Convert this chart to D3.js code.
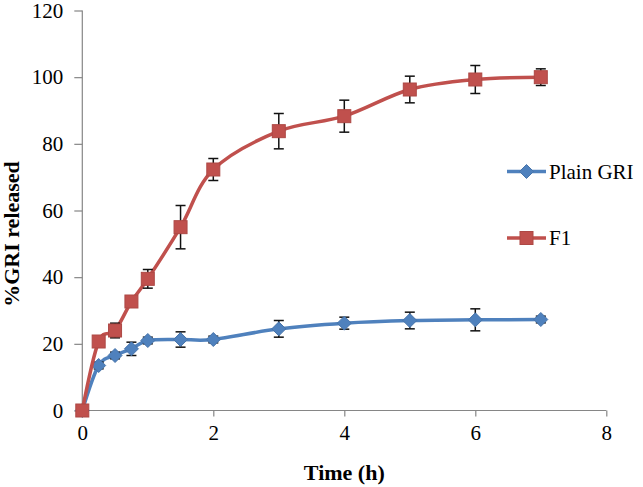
<!DOCTYPE html>
<html><head><meta charset="utf-8">
<script src="https://cdn.jsdelivr.net/npm/d3@7"></script>
<style>
html,body{margin:0;padding:0;background:#fff;}
svg{display:block;}
svg text{font-family:"Liberation Serif","Times New Roman",serif !important;}
</style></head>
<body>
<svg id="c" width="643" height="487"></svg>
<script>
const times = [0, 0.25, 0.5, 0.75, 1, 1.5, 2, 3, 4, 5, 6, 7];
const plainGRI = [0, 13.5, 16.5, 18.5, 21, 21.3, 21.3, 24.5, 26.2, 27, 27.2, 27.3];
const plainErr = [0, 1, 1, 2, 1, 2.3, 1, 2.5, 1.8, 2.5, 3.3, 1];
const f1 = [0, 20.7, 24, 32.7, 39.5, 55, 72.3, 83.8, 88.3, 96.3, 99.3, 100];
const f1Err = [0, 1, 2.2, 1, 2.8, 6.5, 3.3, 5.3, 4.8, 4, 4.2, 2.5];
const xTicks = [0, 2, 4, 6, 8];
const yTicks = [0, 20, 40, 60, 80, 100, 120];
const seriesNames = ["Plain GRI", "F1"];
const seriesColors = ["#4F81BD", "#C0504D"];
const markerTypes = ["diamond", "square"];

const FONT = '"Liberation Serif","Times New Roman",serif';
const svg = d3.select("#c");
const x = d3.scaleLinear().domain([0, 8]).range([82.3, 606.3]);
const y = d3.scaleLinear().domain([0, 120]).range([410.5, 10.5]);
const axisColor = "#868686";

// Axes
const gx = svg.append("g").attr("transform", `translate(0,${y(0)})`)
  .call(d3.axisBottom(x).tickValues(xTicks).tickSize(6).tickPadding(9).tickFormat(d3.format("d")));
const gy = svg.append("g").attr("transform", `translate(${x(0)},0)`)
  .call(d3.axisLeft(y).tickValues(yTicks).tickSize(8).tickPadding(11).tickFormat(d3.format("d")));
[gx, gy].forEach(g => {
  g.attr("font-family", FONT).attr("font-size", 21);
  g.select(".domain").attr("stroke", axisColor).attr("stroke-width", 1.2);
  g.selectAll(".tick line").attr("stroke", axisColor).attr("stroke-width", 1.2);
  g.selectAll(".tick text").attr("fill", "#000").attr("font-family", FONT).attr("font-size", 21);
});
gx.select(".domain").attr("d", `M${x(0)},0H${x(8)}`);
gy.select(".domain").attr("d", `M0,${y(0)}V${y(120)}`);

// Axis titles
svg.append("text").attr("x", x(4)).attr("y", 480).attr("text-anchor", "middle")
  .attr("font-family", FONT).attr("font-size", 22).attr("font-weight", "bold").text("Time (h)");
svg.append("text").attr("transform", "translate(19,234) rotate(-90)").attr("text-anchor", "middle")
  .attr("font-family", FONT).attr("font-size", 22).attr("font-weight", "bold").text("%GRI released");

const seriesData = [
  times.map((t, i) => ({t, v: plainGRI[i], e: plainErr[i]})),
  times.map((t, i) => ({t, v: f1[i], e: f1Err[i]}))
];

const line = d3.line().x(d => x(d.t)).y(d => y(d.v)).curve(d3.curveCatmullRom.alpha(0));

function marker(g, type, color, cx, cy) {
  if (type === "diamond") {
    g.append("path").attr("d", `M${cx},${cy-7}L${cx+7},${cy}L${cx},${cy+7}L${cx-7},${cy}Z`)
      .attr("fill", color).attr("stroke", d3.color(color).darker(0.3)).attr("stroke-width", 1);
  } else {
    g.append("rect").attr("x", cx - 6.5).attr("y", cy - 6.5).attr("width", 13).attr("height", 13)
      .attr("fill", color).attr("stroke", d3.color(color).darker(0.3)).attr("stroke-width", 1);
  }
}

seriesData.forEach((data, si) => {
  const g = svg.append("g");
  const color = seriesColors[si];
  g.append("path").datum(data).attr("d", line).attr("fill", "none")
    .attr("stroke", color).attr("stroke-width", 3.5);
  data.forEach(d => {
    if (d.e > 0) {
      const eg = g.append("g").attr("stroke", "#111").attr("stroke-width", 1.5);
      eg.append("line").attr("x1", x(d.t)).attr("x2", x(d.t)).attr("y1", y(d.v + d.e)).attr("y2", y(d.v - d.e));
      eg.append("line").attr("x1", x(d.t) - 5).attr("x2", x(d.t) + 5).attr("y1", y(d.v + d.e)).attr("y2", y(d.v + d.e));
      eg.append("line").attr("x1", x(d.t) - 5).attr("x2", x(d.t) + 5).attr("y1", y(d.v - d.e)).attr("y2", y(d.v - d.e));
    }
  });
  data.forEach(d => marker(g, markerTypes[si], color, x(d.t), y(d.v)));
});

// Legend
const legendY = [171.5, 238];
seriesNames.forEach((name, i) => {
  const g = svg.append("g");
  g.append("line").attr("x1", 507).attr("x2", 546).attr("y1", legendY[i]).attr("y2", legendY[i])
    .attr("stroke", seriesColors[i]).attr("stroke-width", 3.5);
  marker(g, markerTypes[i], seriesColors[i], 526.5, legendY[i]);
  g.append("text").attr("x", 549).attr("y", legendY[i] + 7)
    .attr("font-family", FONT).attr("font-size", 21).text(name);
});
</script>
</body></html>
